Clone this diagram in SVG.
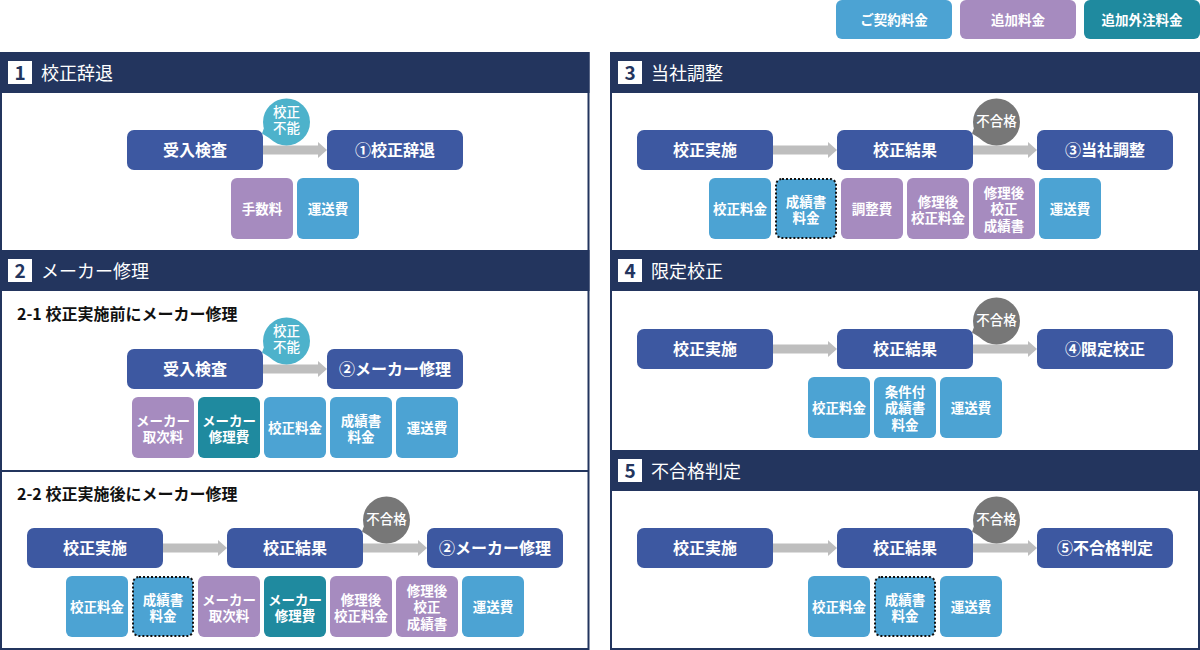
<svg xmlns="http://www.w3.org/2000/svg" width="1200" height="650" viewBox="0 0 1200 650">
<style>
text{font-family:"Noto Sans CJK JP","Noto Sans",sans-serif;}
.panel{fill:#fff;stroke:#23355e;stroke-width:2;}
.hdr{fill:#23355e;}
.sq{fill:#fff;}
.num{fill:#23355e;font-size:19px;font-weight:700;text-anchor:middle;}
.ttl{fill:#fff;font-size:18px;font-weight:400;}
.sub{fill:#111;font-size:16px;font-weight:700;}
.main{fill:#3d58a1;}
.mt{fill:#fff;font-size:16px;font-weight:700;text-anchor:middle;}
.blue{fill:#4ca3d3;}
.purple{fill:#a68bbf;}
.teal{fill:#1f8a9f;}
.dot{stroke:#111;stroke-width:2;stroke-dasharray:2 2;}
.ct{fill:#fff;font-size:13.5px;font-weight:700;text-anchor:middle;}
.lt{fill:#fff;font-size:13.5px;font-weight:700;text-anchor:middle;}
.arrow{fill:#bebebe;}
.bb1{fill:#4db2cb;}
.bb2{fill:#777;}
.bt{fill:#fff;font-size:13.5px;font-weight:500;text-anchor:middle;}
.div{stroke:#23355e;stroke-width:2;}
</style>

<g id="legend">
<g id="legend-contract"><rect class="blue" x="836" y="0" width="116" height="39" rx="6"/><text class="lt" x="894" y="24.5">ご契約料金</text></g>
<g id="legend-additional"><rect class="purple" x="960" y="0" width="116" height="39" rx="6"/><text class="lt" x="1018" y="24.5">追加料金</text></g>
<g id="legend-outsourced"><rect class="teal" x="1084" y="0" width="116" height="39" rx="6"/><text class="lt" x="1142" y="24.5">追加外注料金</text></g>
</g>

<g id="panels">
<rect class="panel" x="1" y="53" width="587.5" height="596"/>
<rect class="panel" x="611" y="53" width="588" height="596"/>
<line class="div" x1="0" y1="471" x2="589" y2="471"/>
</g>

<g id="headers">
<g id="header-1"><rect class="hdr" x="0" y="52" width="589.5" height="41"/><rect class="sq" x="8" y="61" width="24" height="23"/><text class="num" x="20" y="80">1</text><text class="ttl" x="41" y="80">校正辞退</text></g>
<g id="header-2"><rect class="hdr" x="0" y="250" width="589.5" height="41"/><rect class="sq" x="8" y="259" width="24" height="23"/><text class="num" x="20" y="278">2</text><text class="ttl" x="41" y="278">メーカー修理</text></g>
<g id="header-3"><rect class="hdr" x="610" y="52" width="590" height="41"/><rect class="sq" x="618" y="61" width="24" height="23"/><text class="num" x="630" y="80">3</text><text class="ttl" x="651" y="80">当社調整</text></g>
<g id="header-4"><rect class="hdr" x="610" y="250" width="590" height="41"/><rect class="sq" x="618" y="259" width="24" height="23"/><text class="num" x="630" y="278">4</text><text class="ttl" x="651" y="278">限定校正</text></g>
<g id="header-5"><rect class="hdr" x="610" y="450" width="590" height="41"/><rect class="sq" x="618" y="459" width="24" height="23"/><text class="num" x="630" y="478">5</text><text class="ttl" x="651" y="478">不合格判定</text></g>
<text class="sub" x="17" y="320">2-1 校正実施前にメーカー修理</text>
<text class="sub" x="17" y="500">2-2 校正実施後にメーカー修理</text>
</g>

<g id="connectors">
<rect class="arrow" x="263" y="145.5" width="55" height="9"/><polygon class="arrow" points="318,142 327,150 318,158"/>
<rect class="arrow" x="263" y="364.5" width="55" height="9"/><polygon class="arrow" points="318,361 327,369 318,377"/>
<rect class="arrow" x="163" y="543.5" width="55" height="9"/><polygon class="arrow" points="218,540 227,548 218,556"/>
<rect class="arrow" x="363" y="543.5" width="55" height="9"/><polygon class="arrow" points="418,540 427,548 418,556"/>
<rect class="arrow" x="773" y="145.5" width="55" height="9"/><polygon class="arrow" points="828,142 837,150 828,158"/>
<rect class="arrow" x="973" y="145.5" width="55" height="9"/><polygon class="arrow" points="1028,142 1037,150 1028,158"/>
<rect class="arrow" x="773" y="344.5" width="55" height="9"/><polygon class="arrow" points="828,341 837,349 828,357"/>
<rect class="arrow" x="973" y="344.5" width="55" height="9"/><polygon class="arrow" points="1028,341 1037,349 1028,357"/>
<rect class="arrow" x="773" y="543.5" width="55" height="9"/><polygon class="arrow" points="828,540 837,548 828,556"/>
<rect class="arrow" x="973" y="543.5" width="55" height="9"/><polygon class="arrow" points="1028,540 1037,548 1028,556"/>
</g>

<!-- Section 1 -->
<g id="s1-inspect"><rect class="main" x="127" y="130" width="136" height="40" rx="7"/><text class="mt" x="195" y="155.5">受入検査</text></g>
<g id="s1-result"><rect class="main" x="327" y="130" width="136" height="40" rx="7"/><text class="mt" x="395" y="155.5">①校正辞退</text></g>
<g id="s1-bubble"><circle class="bb1" cx="286.5" cy="122" r="23.5"/><polygon class="bb1" points="264,128 270,138.6 262,133.5"/><text class="bt" x="286.5" y="117.3">校正<tspan x="286.5" dy="16">不能</tspan></text></g>
<g id="s1-fee"><rect class="purple" x="231" y="178" width="62" height="61" rx="6"/><text class="ct" x="262" y="213.5">手数料</text></g>
<g id="s1-ship"><rect class="blue" x="297" y="178" width="62" height="61" rx="6"/><text class="ct" x="328" y="213.5">運送費</text></g>

<!-- Section 2-1 -->
<g id="s21-inspect"><rect class="main" x="127" y="349" width="136" height="40" rx="7"/><text class="mt" x="195" y="374.5">受入検査</text></g>
<g id="s21-result"><rect class="main" x="327" y="349" width="136" height="40" rx="7"/><text class="mt" x="395" y="374.5">②メーカー修理</text></g>
<g id="s21-bubble"><circle class="bb1" cx="286.5" cy="341" r="23.5"/><polygon class="bb1" points="264,347 270,357.6 262,352.5"/><text class="bt" x="286.5" y="336.3">校正<tspan x="286.5" dy="16">不能</tspan></text></g>
<g id="s21-c1"><rect class="purple" x="132" y="397" width="62" height="61" rx="6"/><text class="ct" x="163" y="425.5">メーカー<tspan x="163" dy="16">取次料</tspan></text></g>
<g id="s21-c2"><rect class="teal" x="198" y="397" width="62" height="61" rx="6"/><text class="ct" x="229" y="425.5">メーカー<tspan x="229" dy="16">修理費</tspan></text></g>
<g id="s21-c3"><rect class="blue" x="264" y="397" width="62" height="61" rx="6"/><text class="ct" x="295" y="432.5">校正料金</text></g>
<g id="s21-c4"><rect class="blue" x="330" y="397" width="62" height="61" rx="6"/><text class="ct" x="361" y="425.5">成績書<tspan x="361" dy="16">料金</tspan></text></g>
<g id="s21-c5"><rect class="blue" x="396" y="397" width="62" height="61" rx="6"/><text class="ct" x="427" y="432.5">運送費</text></g>

<!-- Section 2-2 -->
<g id="s22-cal"><rect class="main" x="27" y="528" width="136" height="40" rx="7"/><text class="mt" x="95" y="553.5">校正実施</text></g>
<g id="s22-res"><rect class="main" x="227" y="528" width="136" height="40" rx="7"/><text class="mt" x="295" y="553.5">校正結果</text></g>
<g id="s22-out"><rect class="main" x="427" y="528" width="136" height="40" rx="7"/><text class="mt" x="495" y="553.5">②メーカー修理</text></g>
<g id="s22-bubble"><circle class="bb2" cx="386.5" cy="520" r="23.5"/><polygon class="bb2" points="364,526 370,536.6 362,531.5"/><text class="bt" x="386.5" y="524">不合格</text></g>
<g id="s22-c1"><rect class="blue" x="66" y="576" width="62" height="61" rx="6"/><text class="ct" x="97" y="611.5">校正料金</text></g>
<g id="s22-c2"><rect class="blue dot" x="133" y="577" width="60" height="59" rx="6"/><text class="ct" x="163" y="604.5">成績書<tspan x="163" dy="16">料金</tspan></text></g>
<g id="s22-c3"><rect class="purple" x="198" y="576" width="62" height="61" rx="6"/><text class="ct" x="229" y="604.5">メーカー<tspan x="229" dy="16">取次料</tspan></text></g>
<g id="s22-c4"><rect class="teal" x="264" y="576" width="62" height="61" rx="6"/><text class="ct" x="295" y="604.5">メーカー<tspan x="295" dy="16">修理費</tspan></text></g>
<g id="s22-c5"><rect class="purple" x="330" y="576" width="62" height="61" rx="6"/><text class="ct" x="361" y="604.5">修理後<tspan x="361" dy="16">校正料金</tspan></text></g>
<g id="s22-c6"><rect class="purple" x="396" y="576" width="62" height="61" rx="6"/><text class="ct" x="427" y="595.5">修理後<tspan x="427" dy="16.5">校正</tspan><tspan x="427" dy="16.5">成績書</tspan></text></g>
<g id="s22-c7"><rect class="blue" x="462" y="576" width="62" height="61" rx="6"/><text class="ct" x="493" y="611.5">運送費</text></g>

<!-- Section 3 -->
<g id="s3-cal"><rect class="main" x="637" y="130" width="136" height="40" rx="7"/><text class="mt" x="705" y="155.5">校正実施</text></g>
<g id="s3-res"><rect class="main" x="837" y="130" width="136" height="40" rx="7"/><text class="mt" x="905" y="155.5">校正結果</text></g>
<g id="s3-out"><rect class="main" x="1037" y="130" width="136" height="40" rx="7"/><text class="mt" x="1105" y="155.5">③当社調整</text></g>
<g id="s3-bubble"><circle class="bb2" cx="996.5" cy="122" r="23.5"/><polygon class="bb2" points="974,128 980,138.6 972,133.5"/><text class="bt" x="996.5" y="126">不合格</text></g>
<g id="s3-c1"><rect class="blue" x="709" y="178" width="62" height="61" rx="6"/><text class="ct" x="740" y="213.5">校正料金</text></g>
<g id="s3-c2"><rect class="blue dot" x="776" y="179" width="60" height="59" rx="6"/><text class="ct" x="806" y="206.5">成績書<tspan x="806" dy="16">料金</tspan></text></g>
<g id="s3-c3"><rect class="purple" x="841" y="178" width="62" height="61" rx="6"/><text class="ct" x="872" y="213.5">調整費</text></g>
<g id="s3-c4"><rect class="purple" x="907" y="178" width="62" height="61" rx="6"/><text class="ct" x="938" y="206.5">修理後<tspan x="938" dy="16">校正料金</tspan></text></g>
<g id="s3-c5"><rect class="purple" x="973" y="178" width="62" height="61" rx="6"/><text class="ct" x="1004" y="197.5">修理後<tspan x="1004" dy="16.5">校正</tspan><tspan x="1004" dy="16.5">成績書</tspan></text></g>
<g id="s3-c6"><rect class="blue" x="1039" y="178" width="62" height="61" rx="6"/><text class="ct" x="1070" y="213.5">運送費</text></g>

<!-- Section 4 -->
<g id="s4-cal"><rect class="main" x="637" y="329" width="136" height="40" rx="7"/><text class="mt" x="705" y="354.5">校正実施</text></g>
<g id="s4-res"><rect class="main" x="837" y="329" width="136" height="40" rx="7"/><text class="mt" x="905" y="354.5">校正結果</text></g>
<g id="s4-out"><rect class="main" x="1037" y="329" width="136" height="40" rx="7"/><text class="mt" x="1105" y="354.5">④限定校正</text></g>
<g id="s4-bubble"><circle class="bb2" cx="996.5" cy="321" r="23.5"/><polygon class="bb2" points="974,327 980,337.6 972,332.5"/><text class="bt" x="996.5" y="325">不合格</text></g>
<g id="s4-c1"><rect class="blue" x="808" y="377" width="62" height="61" rx="6"/><text class="ct" x="839" y="412.5">校正料金</text></g>
<g id="s4-c2"><rect class="blue" x="874" y="377" width="62" height="61" rx="6"/><text class="ct" x="905" y="396.5">条件付<tspan x="905" dy="16.5">成績書</tspan><tspan x="905" dy="16.5">料金</tspan></text></g>
<g id="s4-c3"><rect class="blue" x="940" y="377" width="62" height="61" rx="6"/><text class="ct" x="971" y="412.5">運送費</text></g>

<!-- Section 5 -->
<g id="s5-cal"><rect class="main" x="637" y="528" width="136" height="40" rx="7"/><text class="mt" x="705" y="553.5">校正実施</text></g>
<g id="s5-res"><rect class="main" x="837" y="528" width="136" height="40" rx="7"/><text class="mt" x="905" y="553.5">校正結果</text></g>
<g id="s5-out"><rect class="main" x="1037" y="528" width="136" height="40" rx="7"/><text class="mt" x="1105" y="553.5">⑤不合格判定</text></g>
<g id="s5-bubble"><circle class="bb2" cx="996.5" cy="520" r="23.5"/><polygon class="bb2" points="974,526 980,536.6 972,531.5"/><text class="bt" x="996.5" y="524">不合格</text></g>
<g id="s5-c1"><rect class="blue" x="808" y="576" width="62" height="61" rx="6"/><text class="ct" x="839" y="611.5">校正料金</text></g>
<g id="s5-c2"><rect class="blue dot" x="875" y="577" width="60" height="59" rx="6"/><text class="ct" x="905" y="604.5">成績書<tspan x="905" dy="16">料金</tspan></text></g>
<g id="s5-c3"><rect class="blue" x="940" y="576" width="62" height="61" rx="6"/><text class="ct" x="971" y="611.5">運送費</text></g>
</svg>
